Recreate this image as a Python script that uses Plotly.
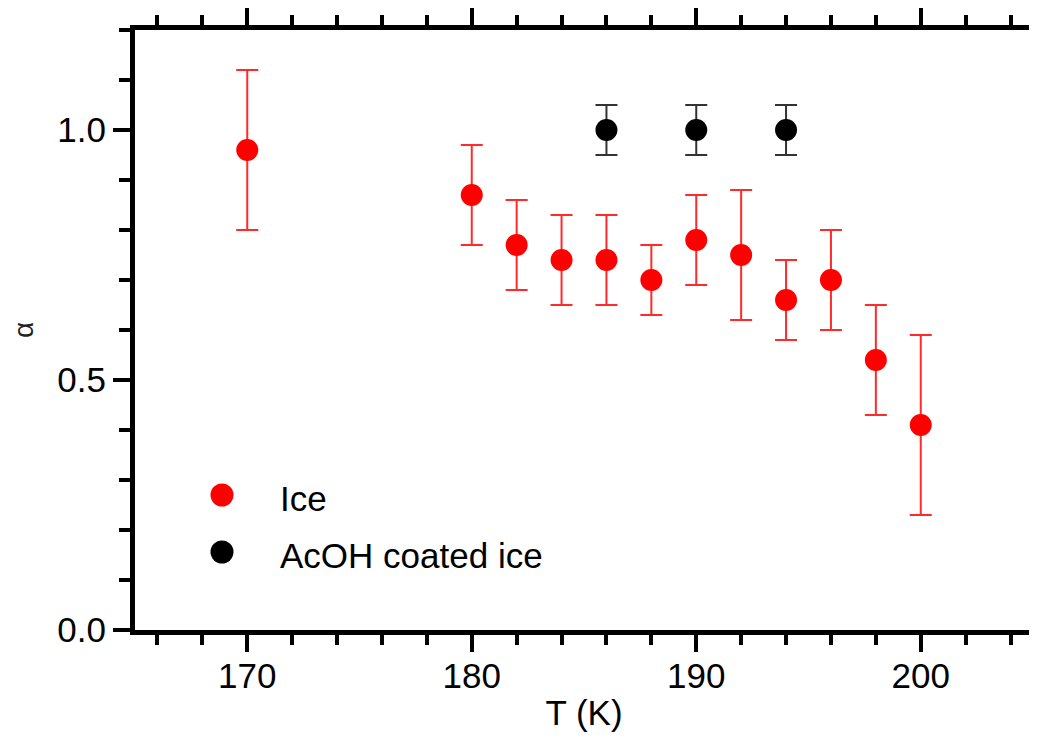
import plotly.graph_objects as go

# Ice data
ice_T = [170, 180, 182, 184, 186, 188, 190, 192, 194, 196, 198, 200]
ice_alpha = [0.96, 0.87, 0.77, 0.74, 0.74, 0.70, 0.78, 0.75, 0.66, 0.70, 0.54, 0.41]
ice_err = [0.16, 0.10, 0.09, 0.09, 0.09, 0.07, 0.09, 0.13, 0.08, 0.10, 0.11, 0.18]

# AcOH coated ice data
acoh_T = [186, 190, 194]
acoh_alpha = [1.0, 1.0, 1.0]
acoh_err = [0.05, 0.05, 0.05]

x_ticks = [170, 180, 190, 200]
y_ticks = [0.0, 0.5, 1.0]
y_ticklabels = ["0.0", "0.5", "1.0"]

series_names = ["Ice", "AcOH coated ice"]
series_colors = ["#ff0000", "#000000"]

FONT = "Liberation Sans, Arial, sans-serif"

# page body has an 8px margin; figure is sized/positioned to compensate
OFF = 8
W, H = 1037 - OFF, 740 - OFF
# plot-area edges in window pixels
L, R, T, B = 135, 1033, 30, 630

fig = go.Figure()
fig.add_trace(go.Scatter(
    x=ice_T, y=ice_alpha, mode="markers", name=series_names[0],
    marker=dict(color=series_colors[0], size=22),
    error_y=dict(type="data", array=ice_err, visible=True, color="#ff2a2a",
                 thickness=2, width=11),
))
fig.add_trace(go.Scatter(
    x=acoh_T, y=acoh_alpha, mode="markers", name=series_names[1],
    marker=dict(color=series_colors[1], size=22),
    error_y=dict(type="data", array=acoh_err, visible=True, color="#333333",
                 thickness=2, width=11),
))

axis_common = dict(
    showline=True, linewidth=5, linecolor="black",
    ticks="outside", tickwidth=4, tickcolor="black", ticklen=17,
    showgrid=False, zeroline=False, automargin=False,
    tickfont=dict(family=FONT, size=35, color="black"),
)

fig.update_xaxes(
    range=[165, 205], tickvals=x_ticks, mirror="ticks", ticklabelstandoff=-6,
    minor=dict(dtick=2, ticks="outside", ticklen=10, tickwidth=4, tickcolor="black", showgrid=False),
    title=dict(text="T (K)", font=dict(family=FONT, size=35, color="black"), standoff=8),
    **axis_common,
)
fig.update_yaxes(
    range=[0, 1.2], tickvals=y_ticks, ticktext=y_ticklabels, mirror=True,
    minor=dict(dtick=0.1, ticks="outside", ticklen=11, tickwidth=4, tickcolor="black", showgrid=False),
    title=dict(text="α", font=dict(family=FONT, size=28, color="#222"), standoff=22),
    **axis_common,
)

def px_x(p):
    return (p - L) / (R - L)
def px_y(p):
    return (B - p) / (B - T)

# Manual legend (larger markers than Plotly's legend allows)
legend_rows_px = [495, 552]
for name, color, ypx in zip(series_names, series_colors, legend_rows_px):
    fig.add_shape(
        type="circle", xref="paper", yref="paper",
        xsizemode="pixel", ysizemode="pixel",
        xanchor=px_x(222), yanchor=px_y(ypx),
        x0=-11.5, x1=11.5, y0=-11.5, y1=11.5,
        fillcolor=color, line=dict(width=0),
    )
    fig.add_annotation(
        x=px_x(278), y=px_y(ypx + 3), xref="paper", yref="paper",
        xanchor="left", yanchor="middle", showarrow=False,
        text=name, font=dict(family=FONT, size=35, color="black"),
    )

fig.update_layout(
    width=W, height=H,
    margin=dict(l=L - OFF, r=W - (R - OFF), t=T - OFF, b=H - (B - OFF)),
    paper_bgcolor="white", plot_bgcolor="white",
    showlegend=False,
)

fig.write_html("out.html")
